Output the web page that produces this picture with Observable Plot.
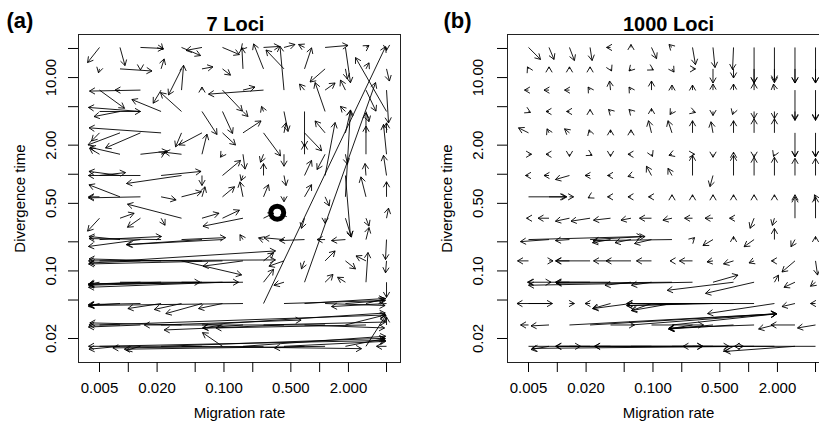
<!DOCTYPE html>
<html><head><meta charset="utf-8">
<script src="https://cdn.jsdelivr.net/npm/d3@7"></script>
<script src="https://cdn.jsdelivr.net/npm/@observablehq/plot@0.6"></script>
<style>
html,body{margin:0;padding:0;background:#fff;}
#wrap{position:relative;width:819px;height:421px;overflow:hidden;background:#fff;}
#wrap svg{position:absolute;top:0;}
</style></head><body><div id="wrap"></div>
<script>
// true grid of simulated values (arrow tails)
const migGrid = [0.005, 0.00819, 0.0134, 0.022, 0.036, 0.0589, 0.0965, 0.158, 0.259, 0.424, 0.695, 1.14, 1.86, 3.05, 5.0];
const divGrid = [20.5, 12.3, 7.42, 4.46, 2.68, 1.61, 0.971, 0.584, 0.351, 0.211, 0.127, 0.0764, 0.046, 0.0276, 0.0166];

// (a) 7 loci: estimates (arrow heads), rows follow divGrid, columns follow migGrid
const aEstM = [
[.00375,.00924,.0233,.0231,.0569,.0401,.145,.151,.381,.552,.602,1.98,2.1,3.28,5.0],
[.00488,.0177,.0134,.0237,.0263,.0767,.117,.154,.204,.275,.823,.794,1.95,3.28,5.36],
[.00913,.00726,.00393,.0182,.0378,.0589,.156,.211,.0689,.385,.616,1.45,1.65,3.88,5.25],
[.0134,.00438,.00383,.0109,.0217,.0845,.123,.178,.247,.467,.695,.896,1.65,3.28,2.37],
[.00413,.00379,.00578,.00389,.0312,.0339,.132,.244,.39,.445,1.05,.896,2.1,3.05,5.0],
[.00393,.00398,.0257,.0241,.0239,.0664,.092,.166,.241,.424,.695,.94,1.95,3.05,4.65],
[.00935,.00388,.00383,.0576,.00957,.0589,.149,.151,.259,.445,.823,1.45,2.1,2.98,4.65],
[.00384,.00388,.00383,.0316,.0582,.0633,.129,.147,.292,.424,.823,1.26,2.1,2.7,5.0],
[.00375,.0115,.0098,.0242,.0098,.0887,.145,.0603,.33,.394,.646,1.14,2.15,3.28,5.25],
[.0222,.00388,.00383,.00389,.104,.0095,.0098,.147,.23,.262,.381,.94,1.33,3.28,4.88],
[.345,.346,.00393,.00389,.153,.00384,.00384,.0603,.33,.295,.646,1.45,2.37,2.4,4.88],
[.00384,.0562,.00383,.00389,.142,.00384,.00384,.00384,.33,.333,3.84,1.38,1.54,3.2,5.0],
[.00384,.00388,.00383,.0099,.0187,.0247,.0542,.00384,4.89,4.7,4.77,4.83,4.87,4.93,1.33],
[4.9,.00388,.00383,.64,.00396,4.85,.0596,.0603,4.9,.0237,4.77,.0147,4.87,.0824,5.0],
[4.89,.00388,.00956,4.8,2.74,.00384,.0596,4.9,.0069,4.9,.337,.0091,4.87,4.93,3.93]
];
const aEstT = [
[14.3,13.3,20.0,19.5,16.9,19.1,17.3,19.5,21.0,22.0,22.0,21.5,8.84,21.5,19.1],
[11.2,11.7,12.0,15.6,6.61,12.9,10.6,20.3,22.3,19.3,20.3,9.0,9.67,14.2,9.21],
[4.81,7.42,7.25,5.43,13.4,7.98,4.5,7.98,6.74,21.1,8.57,8.79,9.42,4.5,3.39],
[4.46,3.95,4.91,5.93,7.0,2.58,2.64,3.96,5.03,2.77,1.94,8.88,5.03,3.5,16.1],
[2.21,2.01,1.87,3.02,1.92,2.01,2.01,3.56,1.55,3.4,1.75,3.56,4.53,4.31,3.4],
[1.86,1.9,1.73,1.69,1.69,2.6,1.5,1.13,1.33,1.21,2.05,1.12,1.27,3.14,3.28],
[1.04,1.07,.971,1.07,.802,.765,1.39,.86,1.29,.763,1.39,3.43,.227,1.29,1.57],
[.584,.777,.57,.543,.659,.742,.742,.835,.78,.52,.78,.471,4.63,.94,.836],
[.258,.395,.283,.297,.49,.395,.425,.29,.395,.385,.276,.311,.224,.291,.446],
[.227,.227,.179,.216,.221,.187,.187,.237,.22,.22,.206,.211,.206,.281,.131],
[.13,.161,.121,.133,.091,.127,.118,.112,.154,.112,.105,.161,.105,.143,.0955],
[.0729,.0764,.0729,.0729,.0764,.0711,.0677,.0729,.104,.0711,8.88,.092,.086,.155,.0532],
[.0428,.0439,.0449,.0408,.0399,.0362,.0408,.0439,20.9,.0494,.0518,.0439,.0494,.0518,.0428],
[.035,.0276,.0263,.031,.029,.0367,.0257,.0257,.0296,.0245,.0257,.0276,.0351,.0257,.0334],
[.0191,.0155,.0151,.0201,.0157,.0166,.023,.0211,.016,.0187,.016,.0155,.02,.0347,.0166]
];

// (b) 1000 loci
const bEstM = [
[.00668,.00924,.0151,.0231,.0327,.0589,.109,.147,.278,.445,.679,1.14,1.86,3.05,5.0],
[.00488,.00819,.0134,.022,.0369,.0562,.101,.166,.278,.424,.695,1.14,1.86,3.05,5.0],
[.00454,.00726,.0119,.021,.0352,.0562,.0965,.158,.259,.424,.695,1.14,1.82,3.05,5.0],
[.00524,.00762,.0125,.022,.0343,.0562,.0965,.151,.278,.424,.679,1.14,1.86,3.05,5.0],
[.00393,.00781,.0119,.0215,.036,.0589,.0898,.1435,.259,.404,.695,1.14,1.86,3.05,5.0],
[.00538,.00762,.0134,.0231,.036,.0548,.0988,.147,.272,.424,.695,1.14,1.82,3.05,5.0],
[.00465,.00726,.00956,.0195,.0335,.0548,.0855,.1435,.259,.394,.695,1.14,1.86,3.05,5.0],
[.0122,.0126,.0148,.021,.0335,.0548,.0898,.158,.259,.424,.695,1.14,1.86,3.05,4.88],
[.00477,.00629,.00956,.0139,.0239,.0463,.0723,.127,.214,.35,.631,1.035,1.77,3.05,5.0],
[.077,.00412,.00956,.0827,.0233,.0401,.0641,.0236,.272,.333,.695,.896,1.86,2.77,5.0],
[.00384,.00902,.00956,.0097,.0239,.0323,.0672,.151,.189,.367,.546,1.01,1.73,2.23,5.25],
[.00488,.0086,.00956,.0097,.005,.0315,.0596,.0097,.005,.774,.141,.354,2.05,2.34,4.43],
[.0089,.00379,.0151,.0195,.0233,.0236,.0596,.0596,.0529,.0537,.053,.0538,.372,2.23,4.43],
[.00413,.00531,1.96,1.96,.0641,1.96,.338,1.96,.146,.147,.145,.147,1.27,1.71,3.24],
[.33,.00531,.0175,.0097,.0245,.624,.0246,.333,.88,.206,.546,.00545,.71,.566,.00958]
];
const bEstT = [
[15.4,15.4,15.0,15.0,20.5,22.0,15.7,22.0,13.6,12.7,12.1,8.84,8.84,8.84,8.84],
[12.9,12.9,12.9,12.9,11.7,11.7,12.0,11.4,12.3,8.78,9.9,8.78,9.21,8.78,8.78],
[7.42,7.42,7.42,7.98,9.22,7.98,9.22,8.37,8.37,8.57,8.57,8.79,8.57,3.6,3.6],
[4.36,4.46,4.46,4.68,4.68,4.68,4.79,4.15,4.36,4.05,4.15,3.77,3.77,3.68,3.68],
[3.02,2.95,2.95,2.88,2.88,2.88,3.58,3.58,3.58,3.49,3.58,3.75,3.75,1.51,1.51],
[1.61,1.61,1.53,1.57,1.53,1.61,1.53,1.57,1.61,1.5,1.69,1.5,1.53,1.53,1.53],
[.971,.971,.882,.971,.971,.948,1.21,1.15,1.57,.745,1.57,1.5,1.5,1.46,1.46],
[.584,.584,.584,.57,.584,.584,.584,.613,.613,.613,.613,.613,.613,.613,.613],
[.351,.351,.327,.327,.335,.335,.351,.335,.351,.351,.351,.276,.296,.583,.583],
[.227,.201,.206,.227,.196,.196,.192,.206,.221,.183,.227,.178,.275,.178,.227],
[.127,.127,.127,.127,.127,.127,.127,.127,.127,.124,.118,.121,.127,.0975,.0906],
[.0764,.0764,.0764,.0764,.0764,.0711,.0711,.0746,.0711,.0905,.063,.0586,.0905,.0677,.0694],
[.046,.046,.046,.046,.0408,.0408,.0389,.0389,.0438,.0438,.046,.046,.0362,.0428,.046],
[.0276,.027,.036,.036,.0276,.036,.0276,.036,.0251,.0251,.0251,.0257,.0251,.0276,.0257],
[.0166,.0154,.0166,.0166,.0166,.0166,.0166,.0166,.0166,.0166,.0147,.0158,.0166,.0147,.0166]
];

// highlighted observed estimate in (a)
const ringM = [0.36];
const ringT = [0.40];

const xTicks = [0.005, 0.01, 0.02, 0.05, 0.1, 0.2, 0.5, 1, 2, 5];
const xTickLabels = ["0.005", "", "0.020", "", "0.100", "", "0.500", "", "2.000", ""];
const yTicks = [20, 10, 5, 2, 1, 0.5, 0.2, 0.1, 0.05, 0.02];
const yTickLabels = ["", "10.00", "", "2.00", "", "0.50", "", "0.10", "", "0.02"];

const xLabelled = xTicks.map((v, i) => ({v, s: xTickLabels[i]})).filter(d => d.s);
const yLabelled = yTicks.map((v, i) => ({v, s: yTickLabels[i]})).filter(d => d.s);

const FONT = "'Liberation Sans', Arial, Helvetica, sans-serif";
const HEAD = 6.3;

function panel({estM, estT, title, tag, width, marginLeft, left, yLabDx, yTitleDx, tagDx, titleDx, ring}) {
  const height = 421, marginTop = 34, marginBottom = 59, marginRight = 10;
  const xDomain = [0.003016, 7.0], yDomain = [0.01129, 27.9];
  const sx = d3.scaleLog(xDomain, [marginLeft, width - marginRight]);
  const sy = d3.scaleLog(yDomain, [height - marginBottom, marginTop]);
  const shafts = [], wings = [];
  divGrid.forEach((t, j) => migGrid.forEach((m, k) => {
    const m2 = estM[j][k], t2 = estT[j][k];
    const px1 = sx(m), py1 = sy(t), px2 = sx(m2), py2 = sy(t2);
    const len = Math.hypot(px2 - px1, py2 - py1);
    if (len < 0.3) return;
    shafts.push({x1: m, y1: t, x2: m2, y2: t2});
    const a = Math.atan2(py2 - py1, px2 - px1);
    for (const s of [-1, 1]) {
      const wa = a + s * Math.PI / 6;
      wings.push({x1: m2, y1: t2, x2: sx.invert(px2 - HEAD * Math.cos(wa)), y2: sy.invert(py2 - HEAD * Math.sin(wa))});
    }
  }));
  const marks = [
    Plot.frame({stroke: "#222", strokeWidth: 1}),
    Plot.axisX(xTicks, {tickSize: 10, tickFormat: () => "", label: null}),
    Plot.axisY(yTicks, {tickSize: 10, tickFormat: () => "", label: null}),
    Plot.text(xLabelled, {x: "v", text: "s", frameAnchor: "bottom", dy: 30.4, lineAnchor: "bottom", fontSize: 15}),
    Plot.text(yLabelled, {y: "v", text: "s", frameAnchor: "left", dx: yLabDx, rotate: -90, lineAnchor: "middle", textAnchor: "middle", fontSize: 15}),
    Plot.text(["Divergence time"], {text: d => d, frameAnchor: "left", dx: yTitleDx, rotate: -90, lineAnchor: "middle", textAnchor: "middle", fontSize: 15}),
    Plot.text(["Migration rate"], {text: d => d, frameAnchor: "bottom", dy: 55.4, lineAnchor: "bottom", fontSize: 15}),
    Plot.text([title], {text: d => d, frameAnchor: "top", dx: titleDx, dy: -3.5, lineAnchor: "bottom", fontWeight: "bold", fontSize: 20}),
    Plot.text([tag], {text: d => d, frameAnchor: "top-left", dx: tagDx, dy: -6.5, lineAnchor: "bottom", textAnchor: "start", fontWeight: "bold", fontSize: 22}),
    Plot.link(shafts, {x1: "x1", y1: "y1", x2: "x2", y2: "y2", stroke: "black", strokeWidth: 0.9}),
    Plot.link(wings, {x1: "x1", y1: "y1", x2: "x2", y2: "y2", stroke: "black", strokeWidth: 0.9})
  ];
  if (ring) marks.push(Plot.dot(ringM.map((m, i) => ({m, t: ringT[i]})), {x: "m", y: "t", r: 6.5, stroke: "black", strokeWidth: 5, fill: "none"}));
  const svg = Plot.plot({
    width, height, marginLeft, marginRight, marginTop, marginBottom,
    x: {type: "log", domain: xDomain},
    y: {type: "log", domain: yDomain},
    style: {fontFamily: FONT, fontSize: "15px", color: "black", background: "white", overflow: "visible"},
    marks
  });
  svg.style.left = left + "px";
  return svg;
}

const wrap = document.getElementById("wrap");
wrap.append(panel({estM: aEstM, estT: aEstT, title: "7 Loci", tag: "(a)", width: 410, marginLeft: 78, left: 0, yLabDx: -27.2, yTitleDx: -58.8, tagDx: -72, titleDx: -4, ring: true}));
wrap.append(panel({estM: bEstM, estT: bEstT, title: "1000 Loci", tag: "(b)", width: 429, marginLeft: 97, left: 410, yLabDx: -29.5, yTitleDx: -60.5, tagDx: -64, titleDx: 0, ring: false}));
</script>
</body></html>
